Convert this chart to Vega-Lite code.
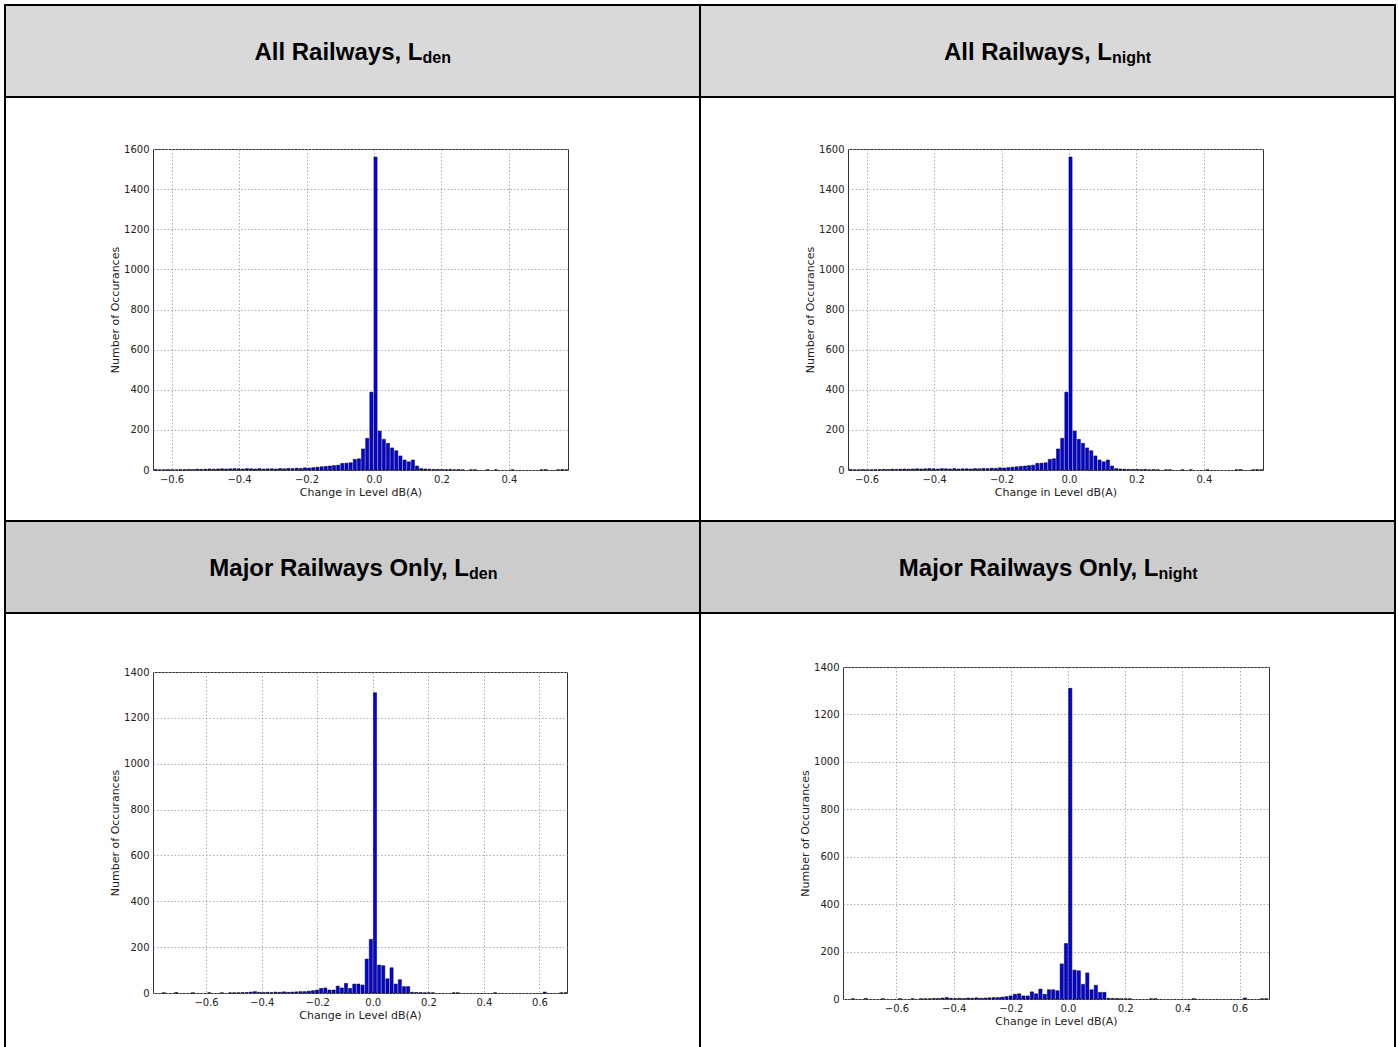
{
  "$schema": "https://vega.github.io/schema/vega-lite/v6.json",
  "background": "white",
  "padding": {"left": 4, "top": 4, "right": 2, "bottom": 0},
  "datasets": {
    "all": [
      {"lo": -0.6550, "hi": -0.6427, "n": 2}, {"lo": -0.6427, "hi": -0.6304, "n": 1}, {"lo": -0.6304, "hi": -0.6181, "n": 1},
      {"lo": -0.6181, "hi": -0.6058, "n": 2}, {"lo": -0.6058, "hi": -0.5935, "n": 1}, {"lo": -0.5935, "hi": -0.5812, "n": 1},
      {"lo": -0.5812, "hi": -0.5689, "n": 2}, {"lo": -0.5689, "hi": -0.5566, "n": 2}, {"lo": -0.5566, "hi": -0.5443, "n": 3},
      {"lo": -0.5443, "hi": -0.5320, "n": 2}, {"lo": -0.5320, "hi": -0.5197, "n": 4}, {"lo": -0.5197, "hi": -0.5074, "n": 3},
      {"lo": -0.5074, "hi": -0.4951, "n": 4}, {"lo": -0.4951, "hi": -0.4828, "n": 5}, {"lo": -0.4828, "hi": -0.4705, "n": 4},
      {"lo": -0.4705, "hi": -0.4582, "n": 5}, {"lo": -0.4582, "hi": -0.4459, "n": 6}, {"lo": -0.4459, "hi": -0.4336, "n": 5},
      {"lo": -0.4336, "hi": -0.4213, "n": 6}, {"lo": -0.4213, "hi": -0.4090, "n": 7}, {"lo": -0.4090, "hi": -0.3967, "n": 6},
      {"lo": -0.3967, "hi": -0.3844, "n": 5}, {"lo": -0.3844, "hi": -0.3721, "n": 7}, {"lo": -0.3721, "hi": -0.3598, "n": 6},
      {"lo": -0.3598, "hi": -0.3475, "n": 5}, {"lo": -0.3475, "hi": -0.3352, "n": 7}, {"lo": -0.3352, "hi": -0.3229, "n": 5},
      {"lo": -0.3229, "hi": -0.3106, "n": 6}, {"lo": -0.3106, "hi": -0.2983, "n": 6}, {"lo": -0.2983, "hi": -0.2860, "n": 5},
      {"lo": -0.2860, "hi": -0.2737, "n": 7}, {"lo": -0.2737, "hi": -0.2614, "n": 6}, {"lo": -0.2614, "hi": -0.2491, "n": 8},
      {"lo": -0.2491, "hi": -0.2368, "n": 7}, {"lo": -0.2368, "hi": -0.2245, "n": 9}, {"lo": -0.2245, "hi": -0.2122, "n": 8},
      {"lo": -0.2122, "hi": -0.1999, "n": 11}, {"lo": -0.1999, "hi": -0.1876, "n": 10}, {"lo": -0.1876, "hi": -0.1753, "n": 12},
      {"lo": -0.1753, "hi": -0.1630, "n": 14}, {"lo": -0.1630, "hi": -0.1507, "n": 16}, {"lo": -0.1507, "hi": -0.1384, "n": 18},
      {"lo": -0.1384, "hi": -0.1261, "n": 20}, {"lo": -0.1261, "hi": -0.1138, "n": 22}, {"lo": -0.1138, "hi": -0.1015, "n": 24},
      {"lo": -0.1015, "hi": -0.0892, "n": 33}, {"lo": -0.0892, "hi": -0.0769, "n": 34}, {"lo": -0.0769, "hi": -0.0646, "n": 36},
      {"lo": -0.0646, "hi": -0.0523, "n": 53}, {"lo": -0.0523, "hi": -0.0400, "n": 56}, {"lo": -0.0400, "hi": -0.0277, "n": 105},
      {"lo": -0.0277, "hi": -0.0154, "n": 158}, {"lo": -0.0154, "hi": -0.0031, "n": 388}, {"lo": -0.0031, "hi": 0.0092, "n": 1560},
      {"lo": 0.0092, "hi": 0.0215, "n": 194}, {"lo": 0.0215, "hi": 0.0338, "n": 153}, {"lo": 0.0338, "hi": 0.0461, "n": 133},
      {"lo": 0.0461, "hi": 0.0584, "n": 110}, {"lo": 0.0584, "hi": 0.0707, "n": 96}, {"lo": 0.0707, "hi": 0.0830, "n": 70},
      {"lo": 0.0830, "hi": 0.0953, "n": 50}, {"lo": 0.0953, "hi": 0.1076, "n": 41}, {"lo": 0.1076, "hi": 0.1199, "n": 50},
      {"lo": 0.1199, "hi": 0.1322, "n": 20}, {"lo": 0.1322, "hi": 0.1445, "n": 7}, {"lo": 0.1445, "hi": 0.1568, "n": 5},
      {"lo": 0.1568, "hi": 0.1691, "n": 4}, {"lo": 0.1691, "hi": 0.1814, "n": 3}, {"lo": 0.1814, "hi": 0.1937, "n": 3},
      {"lo": 0.1937, "hi": 0.2060, "n": 2}, {"lo": 0.2060, "hi": 0.2183, "n": 2}, {"lo": 0.2183, "hi": 0.2306, "n": 3},
      {"lo": 0.2306, "hi": 0.2429, "n": 1}, {"lo": 0.2429, "hi": 0.2552, "n": 2}, {"lo": 0.2552, "hi": 0.2675, "n": 1},
      {"lo": 0.2798, "hi": 0.2921, "n": 1}, {"lo": 0.2921, "hi": 0.3044, "n": 1}, {"lo": 0.3290, "hi": 0.3413, "n": 1},
      {"lo": 0.3536, "hi": 0.3659, "n": 1}, {"lo": 0.4028, "hi": 0.4151, "n": 1}, {"lo": 0.4889, "hi": 0.5012, "n": 1},
      {"lo": 0.5012, "hi": 0.5135, "n": 2}, {"lo": 0.5381, "hi": 0.5504, "n": 1}, {"lo": 0.5504, "hi": 0.5627, "n": 2},
      {"lo": 0.5627, "hi": 0.5750, "n": 1}
    ],
    "major": [
      {"lo": -0.7612, "hi": -0.7463, "n": 1}, {"lo": -0.7165, "hi": -0.7016, "n": 2}, {"lo": -0.6569, "hi": -0.6420, "n": 1},
      {"lo": -0.5973, "hi": -0.5824, "n": 1}, {"lo": -0.5526, "hi": -0.5377, "n": 1}, {"lo": -0.5228, "hi": -0.5079, "n": 1},
      {"lo": -0.5079, "hi": -0.4930, "n": 1}, {"lo": -0.4930, "hi": -0.4781, "n": 1}, {"lo": -0.4781, "hi": -0.4632, "n": 2},
      {"lo": -0.4632, "hi": -0.4483, "n": 2}, {"lo": -0.4483, "hi": -0.4334, "n": 4}, {"lo": -0.4334, "hi": -0.4185, "n": 6},
      {"lo": -0.4185, "hi": -0.4036, "n": 3}, {"lo": -0.4036, "hi": -0.3887, "n": 2}, {"lo": -0.3887, "hi": -0.3738, "n": 3},
      {"lo": -0.3738, "hi": -0.3589, "n": 2}, {"lo": -0.3589, "hi": -0.3440, "n": 4}, {"lo": -0.3440, "hi": -0.3291, "n": 3},
      {"lo": -0.3291, "hi": -0.3142, "n": 5}, {"lo": -0.3142, "hi": -0.2993, "n": 3}, {"lo": -0.2993, "hi": -0.2844, "n": 4},
      {"lo": -0.2844, "hi": -0.2695, "n": 5}, {"lo": -0.2695, "hi": -0.2546, "n": 6}, {"lo": -0.2546, "hi": -0.2397, "n": 6},
      {"lo": -0.2397, "hi": -0.2248, "n": 8}, {"lo": -0.2248, "hi": -0.2099, "n": 10}, {"lo": -0.2099, "hi": -0.1950, "n": 13},
      {"lo": -0.1950, "hi": -0.1801, "n": 20}, {"lo": -0.1801, "hi": -0.1652, "n": 22}, {"lo": -0.1652, "hi": -0.1503, "n": 13},
      {"lo": -0.1503, "hi": -0.1354, "n": 13}, {"lo": -0.1354, "hi": -0.1205, "n": 30}, {"lo": -0.1205, "hi": -0.1056, "n": 22},
      {"lo": -0.1056, "hi": -0.0907, "n": 42}, {"lo": -0.0907, "hi": -0.0758, "n": 20}, {"lo": -0.0758, "hi": -0.0609, "n": 39},
      {"lo": -0.0609, "hi": -0.0460, "n": 39}, {"lo": -0.0460, "hi": -0.0311, "n": 35}, {"lo": -0.0311, "hi": -0.0162, "n": 148},
      {"lo": -0.0162, "hi": -0.0013, "n": 234}, {"lo": -0.0013, "hi": 0.0136, "n": 1310}, {"lo": 0.0136, "hi": 0.0285, "n": 122},
      {"lo": 0.0285, "hi": 0.0434, "n": 119}, {"lo": 0.0434, "hi": 0.0583, "n": 62}, {"lo": 0.0583, "hi": 0.0732, "n": 110},
      {"lo": 0.0732, "hi": 0.0881, "n": 39}, {"lo": 0.0881, "hi": 0.1030, "n": 58}, {"lo": 0.1030, "hi": 0.1179, "n": 28},
      {"lo": 0.1179, "hi": 0.1328, "n": 28}, {"lo": 0.1328, "hi": 0.1477, "n": 3}, {"lo": 0.1477, "hi": 0.1626, "n": 2},
      {"lo": 0.1626, "hi": 0.1775, "n": 2}, {"lo": 0.1775, "hi": 0.1924, "n": 1}, {"lo": 0.1924, "hi": 0.2073, "n": 1},
      {"lo": 0.2073, "hi": 0.2222, "n": 1}, {"lo": 0.2818, "hi": 0.2967, "n": 1}, {"lo": 0.2967, "hi": 0.3116, "n": 1},
      {"lo": 0.4308, "hi": 0.4457, "n": 1}, {"lo": 0.6096, "hi": 0.6245, "n": 4}, {"lo": 0.6692, "hi": 0.6841, "n": 1},
      {"lo": 0.6841, "hi": 0.6990, "n": 1}
    ],
    "h1": [{"main": "All Railways, L", "sub": "den"}],
    "h2": [{"main": "All Railways, L", "sub": "night"}],
    "h3": [{"main": "Major Railways Only, L", "sub": "den"}],
    "h4": [{"main": "Major Railways Only, L", "sub": "night"}]
  },
  "spacing": 0,
  "hconcat": [
    {"data": {"values": []}, "mark": "point", "encoding": {}, "width": 2, "height": 1046, "view": {"fill": "#000000", "stroke": null}},
    {
      "spacing": 0,
      "vconcat": [
        {"data": {"values": []}, "mark": "point", "encoding": {}, "width": 693, "height": 2, "view": {"fill": "#000000", "stroke": null}},
        {"data": {"name": "h1"}, "width": 693, "height": 90, "view": {"fill": "#d9d9d9", "stroke": null},
         "layer": [
           {"mark": {"type": "text", "align": "right", "baseline": "alphabetic", "dx": 70, "dy": 8.5, "fontSize": 24, "fontWeight": "bold", "font": "Liberation Sans", "color": "#000000"}, "encoding": {"text": {"field": "main"}}},
           {"mark": {"type": "text", "align": "left", "baseline": "alphabetic", "dx": 70, "dy": 12, "fontSize": 16, "fontWeight": "bold", "font": "Liberation Sans", "color": "#000000"}, "encoding": {"text": {"field": "sub"}}}
         ]},
        {"data": {"values": []}, "mark": "point", "encoding": {}, "width": 693, "height": 2, "view": {"fill": "#000000", "stroke": null}},
        {"spacing": 0, "hconcat": [
          {"data": {"values": []}, "mark": "point", "encoding": {}, "width": 102.5, "height": 422, "view": {"stroke": null}},
          {"spacing": 0, "vconcat": [
            {"data": {"values": []}, "mark": "point", "encoding": {}, "width": 1, "height": 45, "view": {"stroke": null}},
            {"data": {"name": "all"}, "width": 415, "height": 321, "view": {"stroke": "#333333", "strokeWidth": 1},
             "mark": {"type": "bar", "fill": "#0000ee", "stroke": "#000000", "strokeWidth": 0.5},
             "encoding": {
               "x": {"field": "lo", "type": "quantitative", "bin": "binned", "scale": {"domain": [-0.655, 0.575], "nice": false, "zero": false},
                     "axis": {"title": "Change in Level dB(A)", "values": [-0.6, -0.4, -0.2, 0, 0.2, 0.4], "format": ".1f", "grid": true}},
               "x2": {"field": "hi"},
               "y": {"field": "n", "type": "quantitative", "scale": {"domain": [0, 1600], "nice": false},
                     "axis": {"title": "Number of Occurances", "values": [0, 200, 400, 600, 800, 1000, 1200, 1400, 1600], "format": "d", "grid": true}}
             }}
          ]}
        ]},
        {"data": {"values": []}, "mark": "point", "encoding": {}, "width": 693, "height": 2, "view": {"fill": "#000000", "stroke": null}},
        {"data": {"name": "h3"}, "width": 693, "height": 90, "view": {"fill": "#cccccc", "stroke": null},
         "layer": [
           {"mark": {"type": "text", "align": "right", "baseline": "alphabetic", "dx": 116.5, "dy": 8.5, "fontSize": 24, "fontWeight": "bold", "font": "Liberation Sans", "color": "#000000"}, "encoding": {"text": {"field": "main"}}},
           {"mark": {"type": "text", "align": "left", "baseline": "alphabetic", "dx": 116.5, "dy": 12, "fontSize": 16, "fontWeight": "bold", "font": "Liberation Sans", "color": "#000000"}, "encoding": {"text": {"field": "sub"}}}
         ]},
        {"data": {"values": []}, "mark": "point", "encoding": {}, "width": 693, "height": 2, "view": {"fill": "#000000", "stroke": null}},
        {"spacing": 0, "hconcat": [
          {"data": {"values": []}, "mark": "point", "encoding": {}, "width": 102.5, "height": 436, "view": {"stroke": null}},
          {"spacing": 0, "vconcat": [
            {"data": {"values": []}, "mark": "point", "encoding": {}, "width": 1, "height": 52, "view": {"stroke": null}},
            {"data": {"name": "major"}, "width": 414, "height": 321, "view": {"stroke": "#333333", "strokeWidth": 1},
             "mark": {"type": "bar", "fill": "#0000ee", "stroke": "#000000", "strokeWidth": 0.5},
             "encoding": {
               "x": {"field": "lo", "type": "quantitative", "bin": "binned", "scale": {"domain": [-0.791, 0.699], "nice": false, "zero": false},
                     "axis": {"title": "Change in Level dB(A)", "values": [-0.6, -0.4, -0.2, 0, 0.2, 0.4, 0.6], "format": ".1f", "grid": true}},
               "x2": {"field": "hi"},
               "y": {"field": "n", "type": "quantitative", "scale": {"domain": [0, 1400], "nice": false},
                     "axis": {"title": "Number of Occurances", "values": [0, 200, 400, 600, 800, 1000, 1200, 1400], "format": "d", "grid": true}}
             }}
          ]}
        ]}
      ]
    },
    {"data": {"values": []}, "mark": "point", "encoding": {}, "width": 2, "height": 1046, "view": {"fill": "#000000", "stroke": null}},
    {
      "spacing": 0,
      "vconcat": [
        {"data": {"values": []}, "mark": "point", "encoding": {}, "width": 693, "height": 2, "view": {"fill": "#000000", "stroke": null}},
        {"data": {"name": "h2"}, "width": 693, "height": 90, "view": {"fill": "#d9d9d9", "stroke": null},
         "layer": [
           {"mark": {"type": "text", "align": "right", "baseline": "alphabetic", "dx": 64.5, "dy": 8.5, "fontSize": 24, "fontWeight": "bold", "font": "Liberation Sans", "color": "#000000"}, "encoding": {"text": {"field": "main"}}},
           {"mark": {"type": "text", "align": "left", "baseline": "alphabetic", "dx": 64.5, "dy": 12, "fontSize": 16, "fontWeight": "bold", "font": "Liberation Sans", "color": "#000000"}, "encoding": {"text": {"field": "sub"}}}
         ]},
        {"data": {"values": []}, "mark": "point", "encoding": {}, "width": 693, "height": 2, "view": {"fill": "#000000", "stroke": null}},
        {"spacing": 0, "hconcat": [
          {"data": {"values": []}, "mark": "point", "encoding": {}, "width": 102.5, "height": 422, "view": {"stroke": null}},
          {"spacing": 0, "vconcat": [
            {"data": {"values": []}, "mark": "point", "encoding": {}, "width": 1, "height": 45, "view": {"stroke": null}},
            {"data": {"name": "all"}, "width": 415, "height": 321, "view": {"stroke": "#333333", "strokeWidth": 1},
             "mark": {"type": "bar", "fill": "#0000ee", "stroke": "#000000", "strokeWidth": 0.5},
             "encoding": {
               "x": {"field": "lo", "type": "quantitative", "bin": "binned", "scale": {"domain": [-0.655, 0.575], "nice": false, "zero": false},
                     "axis": {"title": "Change in Level dB(A)", "values": [-0.6, -0.4, -0.2, 0, 0.2, 0.4], "format": ".1f", "grid": true}},
               "x2": {"field": "hi"},
               "y": {"field": "n", "type": "quantitative", "scale": {"domain": [0, 1600], "nice": false},
                     "axis": {"title": "Number of Occurances", "values": [0, 200, 400, 600, 800, 1000, 1200, 1400, 1600], "format": "d", "grid": true}}
             }}
          ]}
        ]},
        {"data": {"values": []}, "mark": "point", "encoding": {}, "width": 693, "height": 2, "view": {"fill": "#000000", "stroke": null}},
        {"data": {"name": "h4"}, "width": 693, "height": 90, "view": {"fill": "#cccccc", "stroke": null},
         "layer": [
           {"mark": {"type": "text", "align": "right", "baseline": "alphabetic", "dx": 111, "dy": 8.5, "fontSize": 24, "fontWeight": "bold", "font": "Liberation Sans", "color": "#000000"}, "encoding": {"text": {"field": "main"}}},
           {"mark": {"type": "text", "align": "left", "baseline": "alphabetic", "dx": 111, "dy": 12, "fontSize": 16, "fontWeight": "bold", "font": "Liberation Sans", "color": "#000000"}, "encoding": {"text": {"field": "sub"}}}
         ]},
        {"data": {"values": []}, "mark": "point", "encoding": {}, "width": 693, "height": 2, "view": {"fill": "#000000", "stroke": null}},
        {"spacing": 0, "hconcat": [
          {"data": {"values": []}, "mark": "point", "encoding": {}, "width": 97.5, "height": 436, "view": {"stroke": null}},
          {"spacing": 0, "vconcat": [
            {"data": {"values": []}, "mark": "point", "encoding": {}, "width": 1, "height": 47, "view": {"stroke": null}},
            {"data": {"name": "major"}, "width": 426, "height": 332, "view": {"stroke": "#333333", "strokeWidth": 1},
             "mark": {"type": "bar", "fill": "#0000ee", "stroke": "#000000", "strokeWidth": 0.5},
             "encoding": {
               "x": {"field": "lo", "type": "quantitative", "bin": "binned", "scale": {"domain": [-0.787, 0.703], "nice": false, "zero": false},
                     "axis": {"title": "Change in Level dB(A)", "values": [-0.6, -0.4, -0.2, 0, 0.2, 0.4, 0.6], "format": ".1f", "grid": true}},
               "x2": {"field": "hi"},
               "y": {"field": "n", "type": "quantitative", "scale": {"domain": [0, 1400], "nice": false},
                     "axis": {"title": "Number of Occurances", "values": [0, 200, 400, 600, 800, 1000, 1200, 1400], "format": "d", "grid": true}}
             }}
          ]}
        ]}
      ]
    },
    {"data": {"values": []}, "mark": "point", "encoding": {}, "width": 2, "height": 1046, "view": {"fill": "#000000", "stroke": null}}
  ],
  "config": {
    "view": {"stroke": null},
    "axis": {
      "labelFont": "DejaVu Sans", "labelFontSize": 10, "labelColor": "#222222",
      "titleFont": "DejaVu Sans", "titleFontSize": 11, "titleFontWeight": "normal", "titleColor": "#222222",
      "ticks": false, "domain": false, "labelPadding": 4,
      "gridColor": "#999999", "gridDash": [1.5, 2], "gridWidth": 0.8
    },
    "axisX": {"titlePadding": 2},
    "axisY": {"titlePadding": 3}
  }
}
